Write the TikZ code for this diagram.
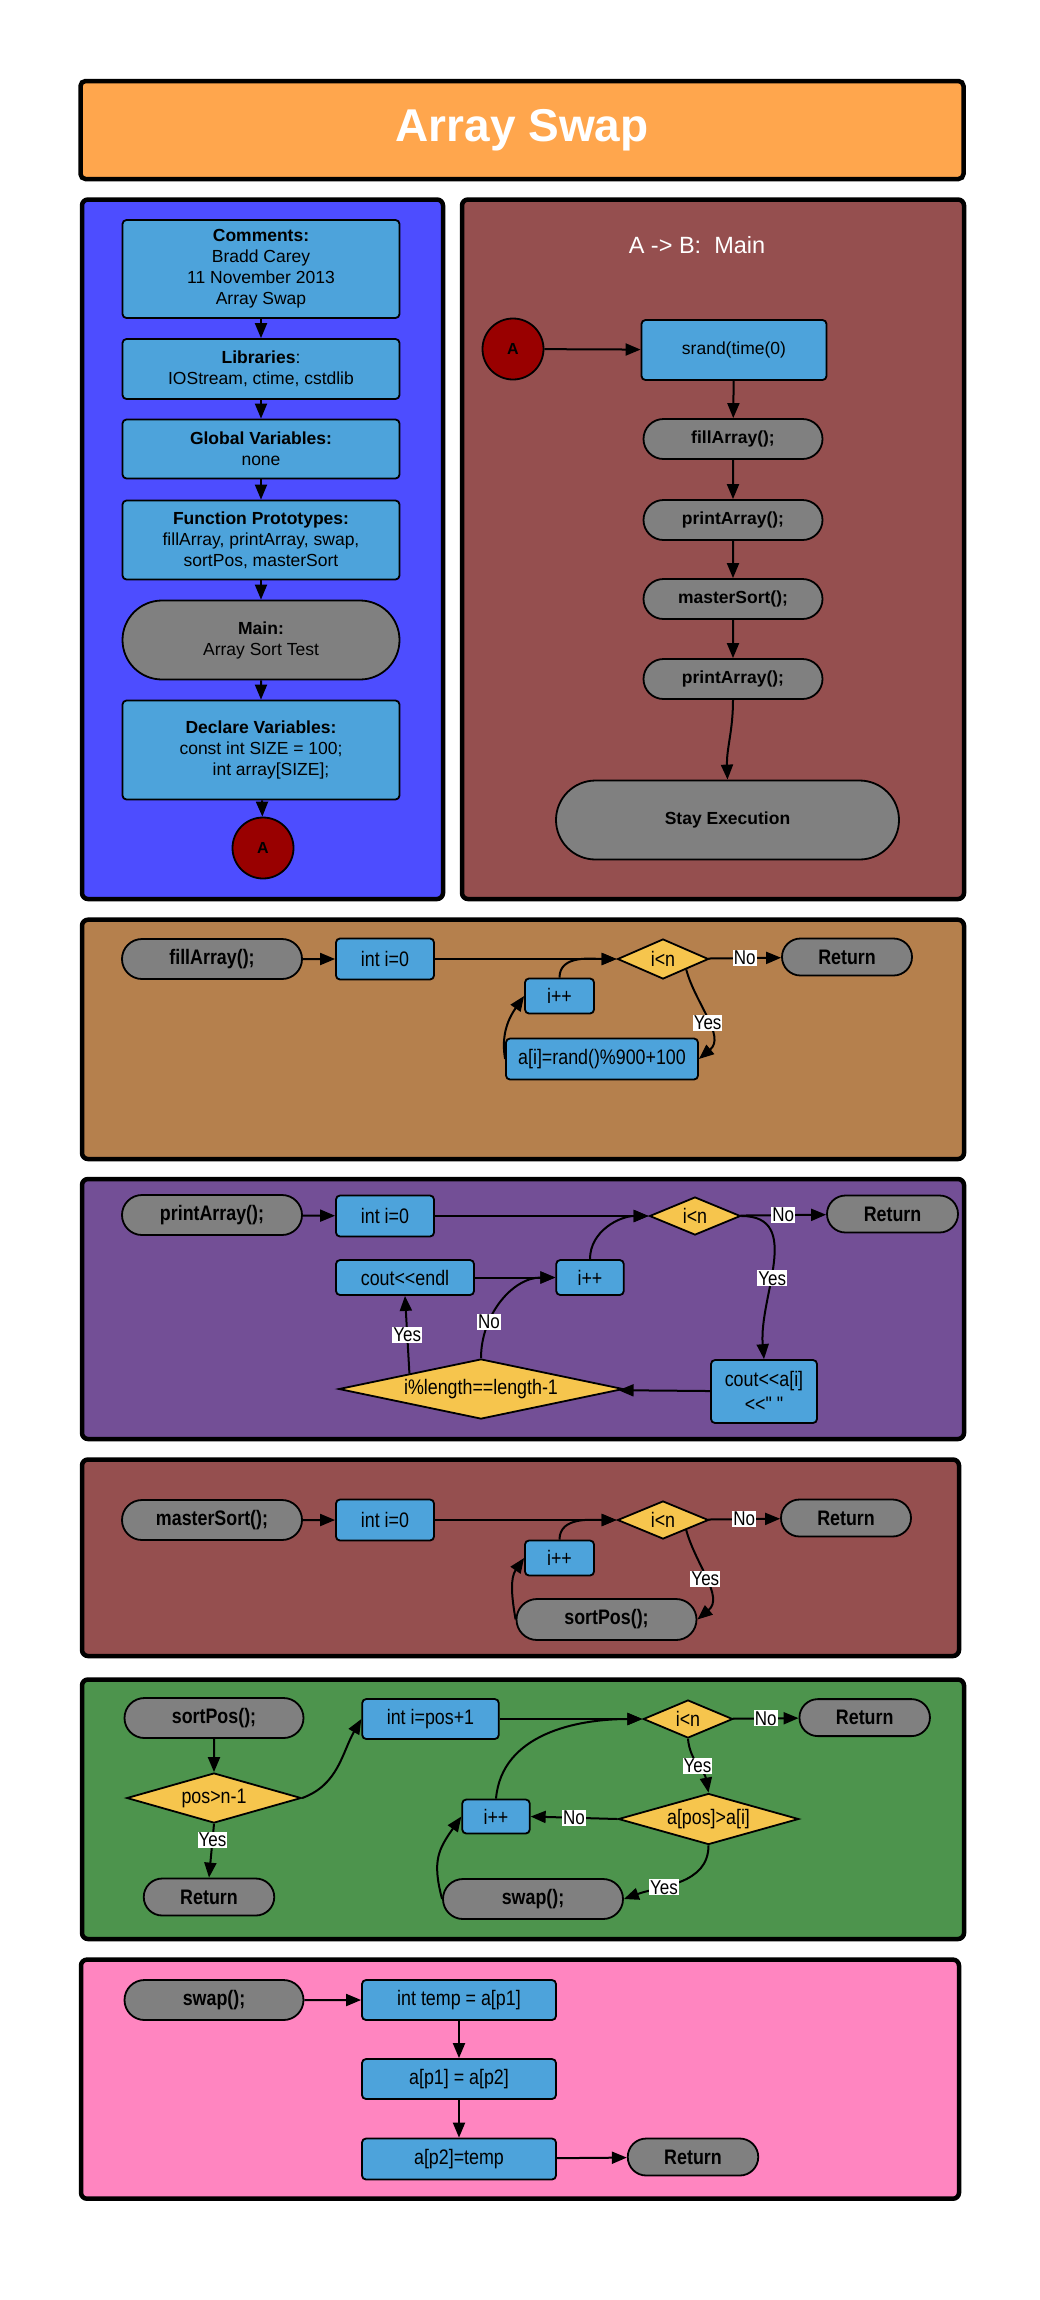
\documentclass[tikz,border=0pt]{standalone}
\usepackage{fontspec}
\newfontfamily\mf{Liberation Sans}
\newfontfamily\nf[FakeStretch=0.85]{Liberation Sans}
\usetikzlibrary{shapes.geometric,shapes.misc,arrows.meta,calc}
\definecolor{cOrange}{RGB}{255,166,77}
\definecolor{cBluePanel}{RGB}{77,77,255}
\definecolor{cNode}{RGB}{77,163,219}
\definecolor{cMaroon}{RGB}{149,79,79}
\definecolor{cGray}{RGB}{128,128,128}
\definecolor{cRed}{RGB}{153,0,0}
\definecolor{cTan}{RGB}{181,128,77}
\definecolor{cPurple}{RGB}{115,79,150}
\definecolor{cYellow}{RGB}{246,197,77}
\definecolor{cGreen}{RGB}{77,148,77}
\definecolor{cPink}{RGB}{255,133,192}
\begin{document}
\begin{tikzpicture}[x=1pt,y=-1pt,
  panel/.style={draw=black,line width=4.5pt,rounded corners=6pt},
  procbox/.style={draw=black,fill=cNode,line width=1.8pt,rounded corners=4pt,inner sep=0pt,align=center},
  termnode/.style={rounded rectangle,draw=black,fill=cGray,line width=1.8pt,inner sep=0pt,align=center},
  decnode/.style={diamond,draw=black,fill=cYellow,line width=1.8pt,inner sep=0pt},
  conn/.style={circle,draw=black,fill=cRed,line width=1.8pt,inner sep=0pt,minimum size=61pt,font=\mf\bfseries\fontsize{16}{18}\selectfont},
  topf/.style={font=\mf\fontsize{17.5}{21}\selectfont},
  topb/.style={font=\mf\bfseries\fontsize{17.5}{21}\selectfont},
  lowf/.style={font=\nf\fontsize{21}{25}\selectfont},
  lowb/.style={font=\nf\bfseries\fontsize{21}{25}\selectfont},
  arr/.style={draw=black,line width=2pt,-{Triangle[length=15pt,width=12pt]}},
  lbl/.style={fill=white,inner sep=1pt,font=\nf\fontsize{20}{22}\selectfont},
]
\useasboundingbox (0,0) rectangle (1040,2300);
\fill[white] (0,0) rectangle (1040,2300);

% title
\node[draw=black,line width=4.5pt,rounded corners=5pt,fill=cOrange,minimum width=883pt,minimum height=98pt,font=\mf\bfseries\fontsize{46}{50}\selectfont,text=white] (title) at (522,130) {Array Swap};

% panels
\draw[panel,fill=cBluePanel] (82,199.5) rectangle (443,899);
\draw[panel,fill=cMaroon] (462,199.5) rectangle (964,899);
\draw[panel,fill=cTan] (82,919.7) rectangle (964,1159);
\draw[panel,fill=cPurple] (82,1179) rectangle (964,1439);
\draw[panel,fill=cMaroon] (82,1459.5) rectangle (959,1656);
\draw[panel,fill=cGreen] (82,1679.5) rectangle (964,1939);
\draw[panel,fill=cPink] (81,1959.6) rectangle (959,2198.7);

% blue panel
\node[procbox,topf,minimum width=277pt,minimum height=98pt] (cm) at (261,269) {\textbf{Comments:}\\Bradd Carey\\11 November 2013\\Array Swap};
\node[procbox,topf,minimum width=277pt,minimum height=60pt] (lib) at (261,369) {\textbf{Libraries}:\\IOStream, ctime, cstdlib};
\node[procbox,topf,minimum width=277pt,minimum height=59pt] (glob) at (261,449) {\textbf{Global Variables:}\\none};
\node[procbox,topf,minimum width=277pt,minimum height=79pt] (proto) at (261,540) {\textbf{Function Prototypes:}\\fillArray, printArray, swap,\\sortPos, masterSort};
\node[termnode,topf,minimum width=277pt,minimum height=79pt] (mainn) at (261,640) {\textbf{Main:}\\Array Sort Test};
\node[procbox,topf,minimum width=277pt,minimum height=99pt] (decl) at (261,750) {\textbf{Declare Variables:}\\const int SIZE = 100;\\\hspace*{20pt}int array[SIZE];};
\node[conn] (ca) at (263,848) {A};
\draw[arr] (cm) -- (lib);
\draw[arr] (lib) -- (glob);
\draw[arr] (glob) -- (proto);
\draw[arr] (proto) -- (mainn);
\draw[arr] (mainn) -- (decl);
\draw[arr] (decl) -- (ca);

% main panel
\node[text=white,font=\mf\fontsize{23.5}{28}\selectfont] (rt) at (697,245) {A -> B:\ \ Main};
\node[conn] (cb) at (513,349) {A};
\node[procbox,topf,minimum width=185pt,minimum height=60pt] (srand) at (734,350) {srand(time(0)};
\node[termnode,topb,minimum width=179pt,minimum height=40pt] (fa) at (733,439) {fillArray();};
\node[termnode,topb,minimum width=179pt,minimum height=40pt] (pa) at (733,520) {printArray();};
\node[termnode,topb,minimum width=179pt,minimum height=40pt] (ms) at (733,599) {masterSort();};
\node[termnode,topb,minimum width=179pt,minimum height=40pt] (pb) at (733,679) {printArray();};
\node[termnode,topb,minimum width=343pt,minimum height=79pt] (se) at (727.5,820) {Stay Execution};
\draw[arr] (cb) -- (srand);
\draw[arr] (srand) -- (fa);
\draw[arr] (fa) -- (pa);
\draw[arr] (pa) -- (ms);
\draw[arr] (ms) -- (pb);
\draw[arr] (pb.south) to[out=-90,in=92] (se.north);

% fillArray panel
\node[termnode,lowb,minimum width=180pt,minimum height=40pt] (f1) at (212,959) {fillArray();};
\node[procbox,lowf,minimum width=98pt,minimum height=41pt] (f2) at (385,959) {int i=0};
\node[decnode,lowf,aspect=2.3,minimum width=91pt,minimum height=40pt] (f3) at (663,959) {i<n};
\node[termnode,lowb,minimum width=130pt,minimum height=37pt] (f4) at (847,957) {Return};
\node[procbox,lowf,minimum width=69pt,minimum height=35pt] (f5) at (559.5,996) {i++};
\node[procbox,lowf,minimum width=192pt,minimum height=41pt] (f6) at (602,1059) {a[i]=rand()\%900+100};
\draw[arr] (f1) -- (f2);
\draw[arr] (f2) -- (f3);
\draw[arr] (f3) -- node[lbl]{No} (f4);
\draw[arr] (f3.south east) to[out=-75,in=40] node[lbl,pos=0.55]{Yes} (f6.east);
\draw[arr] (f6.west) to[out=100,in=235] (f5.west);
\draw[arr] (f5.north) to[out=90,in=180] (f3.west);

% printArray panel
\node[termnode,lowb,minimum width=180pt,minimum height=40pt] (p1) at (212,1215) {printArray();};
\node[procbox,lowf,minimum width=98pt,minimum height=41pt] (p2) at (385,1216) {int i=0};
\node[decnode,lowf,aspect=2.4,minimum width=91pt,minimum height=38pt] (p3) at (695,1216) {i<n};
\node[termnode,lowb,minimum width=131pt,minimum height=37pt] (p4) at (892.5,1214) {Return};
\node[procbox,lowf,minimum width=138pt,minimum height=35pt] (p5) at (405,1277.5) {cout<<endl};
\node[procbox,lowf,minimum width=67.5pt,minimum height=35pt] (p6) at (590,1277.5) {i++};
\node[decnode,lowf,aspect=4.74,minimum width=284.5pt,minimum height=60pt] (p7) at (481,1389) {i\%length==length-1};
\node[procbox,lowf,minimum width=106pt,minimum height=63pt] (p8) at (764,1391.5) {cout<<a[i]\\<<" "};
\draw[arr] (p1) -- (p2);
\draw[arr] (p2) -- (p3);
\draw[arr] (p3) -- node[lbl]{No} (p4);
\draw[arr] (p3.east) to[out=0,in=95,looseness=1.1] node[lbl,pos=0.58]{Yes} (p8.north);
\draw[arr] (p8) -- (p7);
\draw[arr] (p7.north west) -- node[lbl]{Yes} (p5.south);
\draw[arr] (p7.north) to[out=90,in=180] node[lbl,pos=0.3]{No} (p6.west);
\draw[arr] (p5) -- (p6);
\draw[arr] (p6.north) to[out=90,in=180] (p3.west);

% masterSort panel
\node[termnode,lowb,minimum width=180pt,minimum height=40pt] (m1) at (212,1520) {masterSort();};
\node[procbox,lowf,minimum width=98pt,minimum height=41pt] (m2) at (385,1520) {int i=0};
\node[decnode,lowf,aspect=2.4,minimum width=91pt,minimum height=38pt] (m3) at (663,1520) {i<n};
\node[termnode,lowb,minimum width=130pt,minimum height=37pt] (m4) at (846,1518) {Return};
\node[procbox,lowf,minimum width=69pt,minimum height=35pt] (m5) at (559.5,1558) {i++};
\node[termnode,lowb,minimum width=180pt,minimum height=41pt] (m6) at (606.5,1619.5) {sortPos();};
\draw[arr] (m1) -- (m2);
\draw[arr] (m2) -- (m3);
\draw[arr] (m3) -- node[lbl]{No} (m4);
\draw[arr] (m3.south east) to[out=-75,in=40] node[lbl,pos=0.5]{Yes} (m6.east);
\draw[arr] (m6.west) to[out=100,in=235] (m5.west);
\draw[arr] (m5.north) to[out=90,in=180] (m3.west);

% sortPos panel
\node[termnode,lowb,minimum width=179pt,minimum height=40pt] (s1) at (214,1718) {sortPos();};
\node[decnode,lowf,aspect=3.5,minimum width=174.5pt,minimum height=50pt] (s2) at (214,1798) {pos>n-1};
\node[termnode,lowb,minimum width=130.5pt,minimum height=37pt] (s3) at (209,1897) {Return};
\node[procbox,lowf,minimum width=136.5pt,minimum height=40pt] (s4) at (430.5,1719) {int i=pos+1};
\node[decnode,lowf,aspect=2.35,minimum width=89.5pt,minimum height=38pt] (s5) at (688,1719) {i<n};
\node[termnode,lowb,minimum width=130.5pt,minimum height=37pt] (s6) at (864.7,1717.6) {Return};
\node[decnode,lowf,aspect=3.5,minimum width=180.4pt,minimum height=51pt] (s7) at (708.5,1819) {a[pos]>a[i]};
\node[procbox,lowf,minimum width=67.5pt,minimum height=34pt] (s8) at (496,1816.5) {i++};
\node[termnode,lowb,minimum width=180pt,minimum height=40pt] (s9) at (533,1899) {swap();};
\draw[arr] (s1) -- (s2);
\draw[arr] (s2.south) -- node[lbl,pos=0.3]{Yes} (s3.north);
\draw[arr] (s2.east) to[out=20,in=240] (s4.west);
\draw[arr] (s4) -- (s5);
\draw[arr] (s5) -- node[lbl]{No} (s6);
\draw[arr] (s5.south) to[out=-85,in=100] node[lbl,pos=0.5]{Yes} (s7.north);
\draw[arr] (s7.west) -- node[lbl]{No} (s8.east);
\draw[arr] (s7.south) to[out=-90,in=20] node[lbl,pos=0.65]{Yes} (s9.east);
\draw[arr] (s9.west) to[out=105,in=235,looseness=1.2] (s8.west);
\draw[arr] (s8.north) to[out=85,in=180] (s5.west);

% swap panel
\node[termnode,lowb,minimum width=179pt,minimum height=40pt] (w1) at (214,2000) {swap();};
\node[procbox,lowf,minimum width=194pt,minimum height=40pt] (w2) at (459,2000) {int temp = a[p1]};
\node[procbox,lowf,minimum width=194pt,minimum height=40pt] (w3) at (459,2079) {a[p1] = a[p2]};
\node[procbox,lowf,minimum width=194pt,minimum height=41pt] (w4) at (459,2159) {a[p2]=temp};
\node[termnode,lowb,minimum width=130.5pt,minimum height=37pt] (w5) at (693,2157) {Return};
\draw[arr] (w1) -- (w2);
\draw[arr] (w2) -- (w3);
\draw[arr] (w3) -- (w4);
\draw[arr] (w4) -- (w5);
\end{tikzpicture}
\end{document}
